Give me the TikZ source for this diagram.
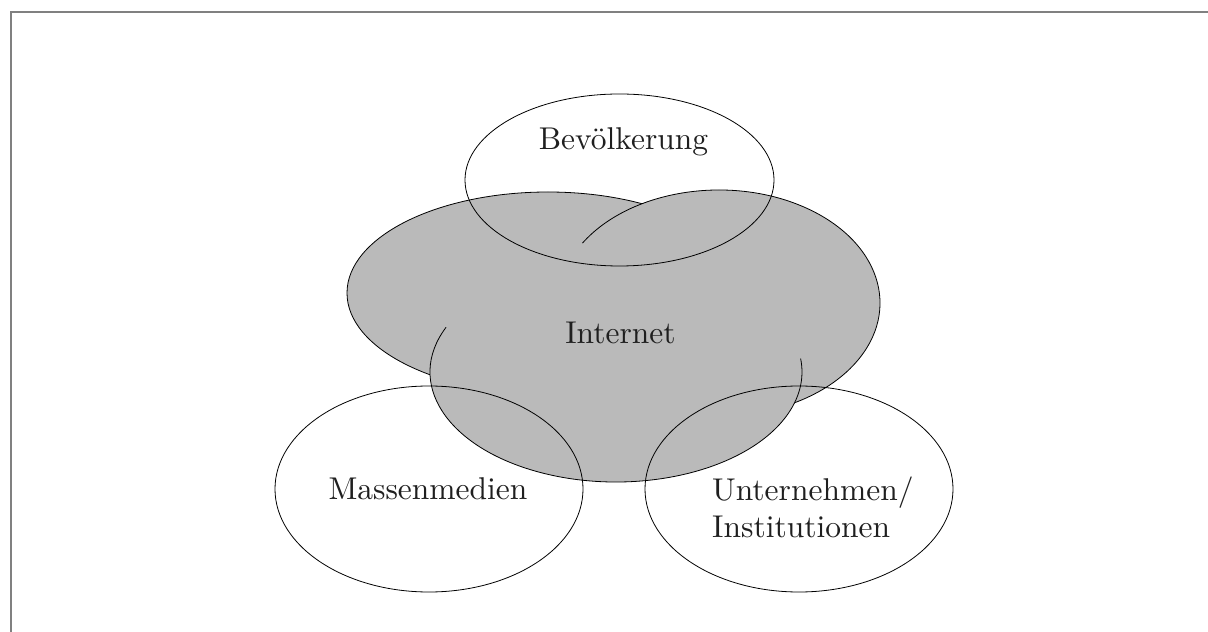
\documentclass[tikz,border=0pt]{standalone}
\usepackage{fontspec}
\setmainfont{lmroman10-regular}[Extension=.otf]
\begin{document}
\definecolor{blobgray}{gray}{0.73}
\definecolor{framegray}{gray}{0.5}
\begin{tikzpicture}[x=1pt,y=1pt,
  outline/.style={draw=black,line width=0.8pt},
  label/.style={inner sep=0pt,font=\fontsize{31.5}{37}\selectfont,text=black!88}]
\useasboundingbox (0,0) rectangle (1208,632);
% frame
\draw[framegray,line width=1.6pt] (11,0) -- (11,620) -- (1208,620);
% Internet: three overlapping grey ellipses
\fill[blobgray] (548,339) ellipse [x radius=201,y radius=101];
\draw[outline] (548,339) ellipse [x radius=201,y radius=101];
\fill[blobgray] (719,329) ellipse [x radius=161,y radius=113];
\draw[outline] (719,329) ++(148:161 and 113) arc [start angle=148,end angle=-90,x radius=161,y radius=113];
\fill[blobgray] (616,260) ellipse [x radius=186,y radius=110];
\draw[outline] (616,260) ++(156:186 and 110) arc [start angle=156,end angle=367,x radius=186,y radius=110];
% the three surrounding actors
\draw[outline] (619.5,452) ellipse [x radius=154.5,y radius=86];
\draw[outline] (429,143) ellipse [x radius=154,y radius=103];
\draw[outline] (799,143) ellipse [x radius=154,y radius=103];
% labels
\node[label,anchor=base] (bev) at (623.5,482) {Bevölkerung};
\node[label,anchor=base] (net) at (620.5,288) {Internet};
\node[label,anchor=base] (mas) at (428,132) {Massenmedien};
\node[label,anchor=west,align=left] (unt) at (712,124.5) {Unternehmen/\\Institutionen};
\end{tikzpicture}
\end{document}
